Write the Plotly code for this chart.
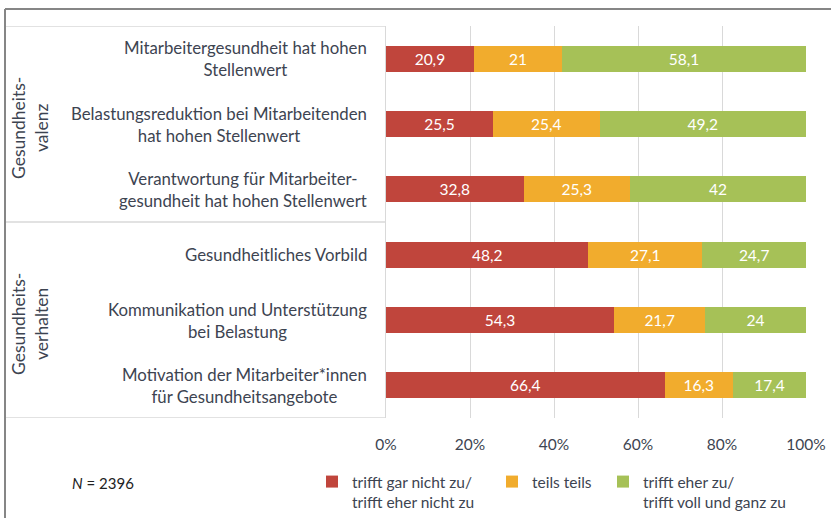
import plotly.graph_objects as go

# ---- data ----
items = [
    "Mitarbeitergesundheit hat hohen<br>Stellenwert",
    "Belastungsreduktion bei Mitarbeitenden<br>hat hohen Stellenwert",
    "Verantwortung für Mitarbeiter-<br>gesundheit hat hohen Stellenwert",
    "Gesundheitliches Vorbild",
    "Kommunikation und Unterstützung<br>bei Belastung",
    "Motivation der Mitarbeiter*innen<br>für Gesundheitsangebote",
]
disagree = [20.9, 25.5, 32.8, 48.2, 54.3, 66.4]
neutral = [21, 25.4, 25.3, 27.1, 21.7, 16.3]
agree = [58.1, 49.2, 42, 24.7, 24, 17.4]

series_names = [
    "trifft gar nicht zu/<br>trifft eher nicht zu",
    "teils teils",
    "trifft eher zu/<br>trifft voll und ganz zu",
]
series_values = [disagree, neutral, agree]
series_colors = ["#c0453c", "#f1ac2d", "#a6c157"]

groups = ["Gesundheits-<br>valenz", "Gesundheits-<br>verhalten"]
group_sizes = [3, 3]

x_ticks = [0, 20, 40, 60, 80, 100]
x_tick_labels = ["0%", "20%", "40%", "60%", "80%", "100%"]
sample_note = "<i>N</i> = 2396"

# ---- figure ----
W, H = 831, 518
L, R, T, B = 386, 25, 26, 100
TXT = "#3d4451"
FONT = "Lato"
GRID = "#d9d9d9"

def fmt(v):
    return f"{v:g}".replace(".", ",")

fig = go.Figure()
legend_ids = ["legend", "legend2", "legend3"]
for name, vals, col, lg in zip(series_names, series_values, series_colors, legend_ids):
    fig.add_trace(go.Bar(
        y=items, x=vals, name=name, orientation="h",
        marker=dict(color=col, line=dict(width=0)),
        text=[fmt(v) for v in vals],
        textposition="inside", insidetextanchor="middle", textangle=0,
        constraintext="none",
        textfont=dict(color="white", size=15.5, family=FONT),
        legend=lg, hoverinfo="skip",
    ))

pw = W - L - R
ph = H - T - B
def px_x(p):
    return (p - L) / pw
def px_y(p):
    return (H - B - p) / ph

annotations = []
for it in items:
    annotations.append(dict(
        x=0, xref="paper", y=it, yref="y", text=it, showarrow=False,
        xanchor="right", align="center", xshift=-17,
        font=dict(size=16.8, color=TXT, family=FONT),
    ))
start = 0
for g, n in zip(groups, group_sizes):
    center = start + (n - 1) / 2
    annotations.append(dict(
        x=px_x(30), xref="paper", y=center, yref="y", text=g, showarrow=False,
        textangle=-90, xanchor="center", yanchor="middle", align="center", yshift=-4,
        font=dict(size=17.5, color=TXT, family=FONT),
    ))
    start += n
annotations.append(dict(
    x=px_x(70), xref="paper", y=px_y(483), yref="paper", text=sample_note,
    showarrow=False, xanchor="left", yanchor="middle",
    font=dict(size=15, color="#222222", family=FONT),
))

shapes = []
# table lines (group separators)
bounds = [-0.5]
acc = -0.5
for n in group_sizes:
    acc += n
    bounds.append(acc)
for b in bounds:
    shapes.append(dict(type="line", xref="paper", yref="y", x0=px_x(5), x1=0,
                       y0=b, y1=b, line=dict(color=GRID, width=1.3), layer="below"))
# outer frame
shapes.append(dict(type="line", xref="paper", yref="paper", x0=px_x(5), x1=px_x(900),
                   y0=px_y(9), y1=px_y(9), line=dict(color="#868686", width=2)))
shapes.append(dict(type="line", xref="paper", yref="paper", x0=px_x(5), x1=px_x(5),
                   y0=px_y(9), y1=px_y(560), line=dict(color="#868686", width=2)))

leg_common = dict(orientation="v", xanchor="left", yanchor="top", valign="top",
                  bgcolor="rgba(0,0,0,0)", font=dict(size=15.5, color=TXT, family=FONT),
                  itemclick=False, itemdoubleclick=False, tracegroupgap=0)
leg_text_x = [352, 532, 643]
layout_legends = {}
for lg, tx in zip(legend_ids, leg_text_x):
    layout_legends[lg] = dict(leg_common, x=px_x(tx - 40), y=px_y(465))

fig.update_layout(
    width=W, height=H,
    margin=dict(l=L, r=R, t=T, b=B, autoexpand=False),
    paper_bgcolor="white", plot_bgcolor="white",
    barmode="stack", barnorm="percent", bargap=0.602,
    font=dict(family=FONT, color=TXT),
    xaxis=dict(range=[0, 100], tickvals=x_ticks, ticktext=x_tick_labels,
               showgrid=True, gridcolor=GRID, gridwidth=1.3, zeroline=False,
               ticks="outside", ticklen=12, tickcolor="rgba(0,0,0,0)",
               tickfont=dict(size=15.5, color=TXT, family=FONT), fixedrange=True),
    yaxis=dict(range=[len(items) - 0.5, -0.5], showticklabels=False, showgrid=False,
               showline=True, linecolor=GRID, linewidth=1.3, zeroline=False,
               fixedrange=True),
    annotations=annotations, shapes=shapes,
    showlegend=True,
    **layout_legends,
)

fig.write_html(
    "out.html",
    config={"displayModeBar": False},
    post_script="document.body.style.margin='0';document.body.style.overflow='hidden';",
)
